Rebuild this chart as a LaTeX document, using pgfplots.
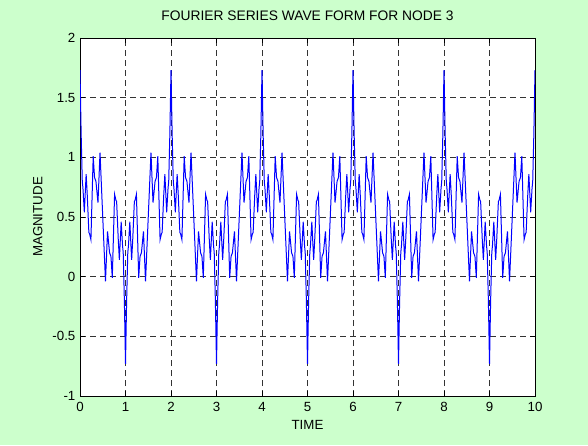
\documentclass[border=0pt]{standalone}
\usepackage{fontspec}
\setmainfont{Liberation Sans}
\usepackage{pgfplots}
\pgfplotsset{compat=1.18}
\definecolor{figbg}{RGB}{204,255,204}
\begin{document}
\fontsize{13.3}{16}\selectfont
\begin{tikzpicture}
\fill[figbg] (0pt,0pt) rectangle (588pt,445pt);
\begin{axis}[
  at={(80pt,49pt)}, anchor=south west,
  scale only axis, width=455pt, height=358pt,
  xmin=0, xmax=10, ymin=-1, ymax=2,
  xtick={0,1,2,3,4,5,6,7,8,9,10},
  xticklabels={0,1,2,3,4,5,6,7,8,9,10},
  ytick={-1,-0.5,0,0.5,1,1.5,2},
  yticklabels={-1,-0.5,0,0.5,1,1.5,2},
  /pgf/number format/assume math mode=true,
  tick align=inside, tick pos=both, major tick length=5pt,
  tick style={black, line width=0.6pt},
  axis line style={black, line width=0.8pt},
  axis background/.style={fill=white},
  grid=major,
  major grid style={black!80, dash pattern=on 6pt off 4pt, line width=0.6pt},
  tick label style={font=\fontsize{13.3}{16}\selectfont, text=black},
  xticklabel style={yshift=-2pt},
  title={FOURIER SERIES WAVE FORM FOR NODE 3},
  title style={at={(axis description cs:0.5,1)}, anchor=base, yshift=11.5pt, font=\fontsize{13.8}{16}\selectfont},
  xlabel={TIME},
  xlabel style={at={(axis description cs:0.5,0)}, anchor=base, yshift=-33.5pt, font=\fontsize{13.3}{16}\selectfont},
  ylabel={MAGNITUDE},
  ylabel style={at={([xshift=-37.5pt]axis description cs:0,0.5)}, anchor=base, font=\fontsize{13.3}{16}\selectfont},
]
\addplot[blue, line width=1pt] coordinates {
(0.000,1.73) (0.025,1.20) (0.050,0.80) (0.065,0.74) (0.095,0.54) (0.135,0.86) (0.160,0.68) (0.195,0.37) (0.210,0.36) (0.240,0.31)
(0.290,1.01) (0.320,0.83) (0.350,0.80) (0.395,0.62) (0.440,1.04) (0.500,0.50) (0.560,-0.04) (0.605,0.38) (0.650,0.20) (0.680,0.17)
(0.710,-0.01) (0.760,0.69) (0.790,0.64) (0.805,0.63) (0.840,0.32) (0.865,0.14) (0.905,0.46) (0.935,0.26) (0.950,0.20) (0.975,-0.20)
(1.000,-0.73) (1.025,-0.20) (1.050,0.20) (1.065,0.26) (1.095,0.46) (1.135,0.14) (1.160,0.32) (1.195,0.63) (1.210,0.64) (1.240,0.69)
(1.290,-0.01) (1.320,0.17) (1.350,0.20) (1.395,0.38) (1.440,-0.04) (1.500,0.50) (1.560,1.04) (1.605,0.62) (1.650,0.80) (1.680,0.83)
(1.710,1.01) (1.760,0.31) (1.790,0.36) (1.805,0.37) (1.840,0.68) (1.865,0.86) (1.905,0.54) (1.935,0.74) (1.950,0.80) (1.975,1.20)
(2.000,1.73) (2.025,1.20) (2.050,0.80) (2.065,0.74) (2.095,0.54) (2.135,0.86) (2.160,0.68) (2.195,0.37) (2.210,0.36) (2.240,0.31)
(2.290,1.01) (2.320,0.83) (2.350,0.80) (2.395,0.62) (2.440,1.04) (2.500,0.50) (2.560,-0.04) (2.605,0.38) (2.650,0.20) (2.680,0.17)
(2.710,-0.01) (2.760,0.69) (2.790,0.64) (2.805,0.63) (2.840,0.32) (2.865,0.14) (2.905,0.46) (2.935,0.26) (2.950,0.20) (2.975,-0.20)
(3.000,-0.73) (3.025,-0.20) (3.050,0.20) (3.065,0.26) (3.095,0.46) (3.135,0.14) (3.160,0.32) (3.195,0.63) (3.210,0.64) (3.240,0.69)
(3.290,-0.01) (3.320,0.17) (3.350,0.20) (3.395,0.38) (3.440,-0.04) (3.500,0.50) (3.560,1.04) (3.605,0.62) (3.650,0.80) (3.680,0.83)
(3.710,1.01) (3.760,0.31) (3.790,0.36) (3.805,0.37) (3.840,0.68) (3.865,0.86) (3.905,0.54) (3.935,0.74) (3.950,0.80) (3.975,1.20)
(4.000,1.73) (4.025,1.20) (4.050,0.80) (4.065,0.74) (4.095,0.54) (4.135,0.86) (4.160,0.68) (4.195,0.37) (4.210,0.36) (4.240,0.31)
(4.290,1.01) (4.320,0.83) (4.350,0.80) (4.395,0.62) (4.440,1.04) (4.500,0.50) (4.560,-0.04) (4.605,0.38) (4.650,0.20) (4.680,0.17)
(4.710,-0.01) (4.760,0.69) (4.790,0.64) (4.805,0.63) (4.840,0.32) (4.865,0.14) (4.905,0.46) (4.935,0.26) (4.950,0.20) (4.975,-0.20)
(5.000,-0.73) (5.025,-0.20) (5.050,0.20) (5.065,0.26) (5.095,0.46) (5.135,0.14) (5.160,0.32) (5.195,0.63) (5.210,0.64) (5.240,0.69)
(5.290,-0.01) (5.320,0.17) (5.350,0.20) (5.395,0.38) (5.440,-0.04) (5.500,0.50) (5.560,1.04) (5.605,0.62) (5.650,0.80) (5.680,0.83)
(5.710,1.01) (5.760,0.31) (5.790,0.36) (5.805,0.37) (5.840,0.68) (5.865,0.86) (5.905,0.54) (5.935,0.74) (5.950,0.80) (5.975,1.20)
(6.000,1.73) (6.025,1.20) (6.050,0.80) (6.065,0.74) (6.095,0.54) (6.135,0.86) (6.160,0.68) (6.195,0.37) (6.210,0.36) (6.240,0.31)
(6.290,1.01) (6.320,0.83) (6.350,0.80) (6.395,0.62) (6.440,1.04) (6.500,0.50) (6.560,-0.04) (6.605,0.38) (6.650,0.20) (6.680,0.17)
(6.710,-0.01) (6.760,0.69) (6.790,0.64) (6.805,0.63) (6.840,0.32) (6.865,0.14) (6.905,0.46) (6.935,0.26) (6.950,0.20) (6.975,-0.20)
(7.000,-0.73) (7.025,-0.20) (7.050,0.20) (7.065,0.26) (7.095,0.46) (7.135,0.14) (7.160,0.32) (7.195,0.63) (7.210,0.64) (7.240,0.69)
(7.290,-0.01) (7.320,0.17) (7.350,0.20) (7.395,0.38) (7.440,-0.04) (7.500,0.50) (7.560,1.04) (7.605,0.62) (7.650,0.80) (7.680,0.83)
(7.710,1.01) (7.760,0.31) (7.790,0.36) (7.805,0.37) (7.840,0.68) (7.865,0.86) (7.905,0.54) (7.935,0.74) (7.950,0.80) (7.975,1.20)
(8.000,1.73) (8.025,1.20) (8.050,0.80) (8.065,0.74) (8.095,0.54) (8.135,0.86) (8.160,0.68) (8.195,0.37) (8.210,0.36) (8.240,0.31)
(8.290,1.01) (8.320,0.83) (8.350,0.80) (8.395,0.62) (8.440,1.04) (8.500,0.50) (8.560,-0.04) (8.605,0.38) (8.650,0.20) (8.680,0.17)
(8.710,-0.01) (8.760,0.69) (8.790,0.64) (8.805,0.63) (8.840,0.32) (8.865,0.14) (8.905,0.46) (8.935,0.26) (8.950,0.20) (8.975,-0.20)
(9.000,-0.73) (9.025,-0.20) (9.050,0.20) (9.065,0.26) (9.095,0.46) (9.135,0.14) (9.160,0.32) (9.195,0.63) (9.210,0.64) (9.240,0.69)
(9.290,-0.01) (9.320,0.17) (9.350,0.20) (9.395,0.38) (9.440,-0.04) (9.500,0.50) (9.560,1.04) (9.605,0.62) (9.650,0.80) (9.680,0.83)
(9.710,1.01) (9.760,0.31) (9.790,0.36) (9.805,0.37) (9.840,0.68) (9.865,0.86) (9.905,0.54) (9.935,0.74) (9.950,0.80) (9.975,1.20)
(10.000,1.73)
};
\end{axis}
\end{tikzpicture}
\end{document}
